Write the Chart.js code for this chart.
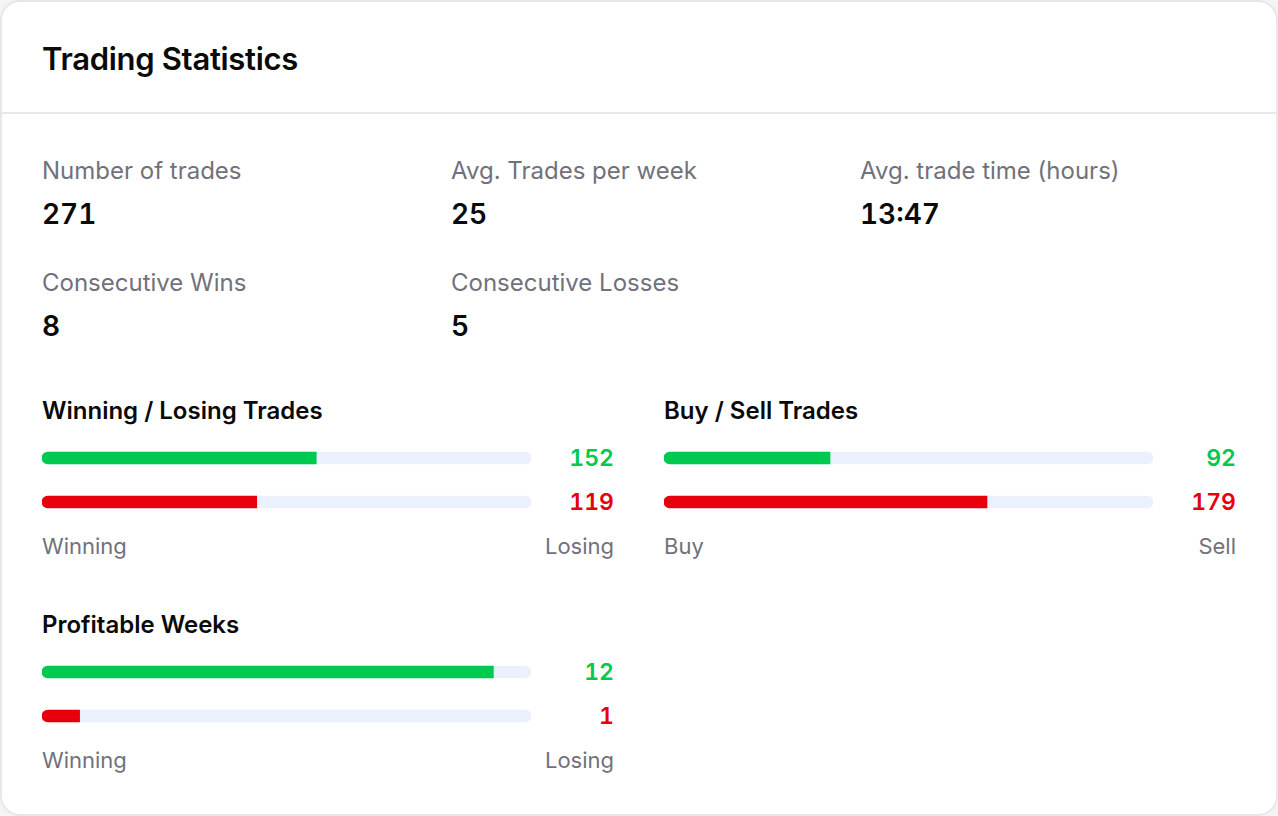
<!DOCTYPE html>
<html>
<head>
<meta charset="utf-8">
<script src="https://cdn.jsdelivr.net/npm/chart.js@4.4.1/dist/chart.umd.min.js"></script>
<style>
  html, body { margin: 0; padding: 0; background: #f4f4f5; }
  body { width: 1278px; height: 816px; overflow: hidden; font-family: "Inter", "Noto Sans", sans-serif; }
  .card {
    position: absolute; left: 0; top: 0; width: 1274px; height: 812px;
    background: #fff; border: 2px solid #e7e7e9; border-radius: 20px; overflow: hidden;
  }
  .divider { position: absolute; left: 0; right: 0; top: 110px; height: 2px; background: #e8e8ea; }
  .txt { position: absolute; line-height: 1; white-space: nowrap; }
  .title { font-size: 31px; font-weight: 600; color: #0a0a0a; letter-spacing: -0.3px; }
  .label { font-size: 24px; font-weight: 400; color: #71717b; }
  .small { font-size: 22px; font-weight: 400; color: #71717b; }
  .value { font-size: 28px; font-weight: 600; color: #0a0a0a; font-variant-numeric: tabular-nums; }
  .section { font-size: 24px; font-weight: 600; color: #0a0a0a; }
  .num { font-size: 23px; font-weight: 600; font-variant-numeric: tabular-nums; }
  canvas { position: absolute; }
</style>
</head>
<body>
<div class="card" id="card">
  <div class="divider"></div>
</div>
<script>
const statLabels = ["Number of trades", "Avg. Trades per week", "Avg. trade time (hours)", "Consecutive Wins", "Consecutive Losses"];
const statValues = ["271", "25", "13:47", "8", "5"];

const groupTitles = ["Winning / Losing Trades", "Buy / Sell Trades", "Profitable Weeks"];
const winLossTrades = [152, 119];
const buySellTrades = [92, 179];
const profitableWeeks = [12, 1];
const winLossLabels = ["Winning", "Losing"];
const buySellLabels = ["Buy", "Sell"];
const weekLabels = ["Winning", "Losing"];

const GREEN = "#00c950";
const RED = "#e7000b";
const TRACK = "#eaf1fd";

const card = document.getElementById("card");

// put text with its baseline at y (Inter: baseline ~0.864em below box top at line-height 1)
function place(text, x, baseline, cls, align, color) {
  const el = document.createElement("div");
  el.className = "txt " + cls;
  el.textContent = text;
  card.appendChild(el);
  const size = parseFloat(getComputedStyle(el).fontSize);
  el.style.top = (baseline - 0.864 * size - 2) + "px";
  if (align === "right") el.style.right = (1274 - x + 2) + "px";
  else el.style.left = (x - 2) + "px";
  if (color) el.style.color = color;
  return el;
}

place("Trading Statistics", 42, 70, "title");

const statX = [42, 451, 860, 42, 451];
const statY = [180, 180, 180, 292, 292];
statLabels.forEach((label, i) => {
  place(label, statX[i], statY[i], "label");
  place(statValues[i], statX[i], statY[i] + 44, "value");
});

function renderGroup(title, values, labels, x, y) {
  const total = values.reduce((a, b) => a + b, 0);
  place(title, x, y + 1.5, "section");

  const canvas = document.createElement("canvas");
  canvas.style.left = (x - 2) + "px";
  canvas.style.top = (y + 18 - 2) + "px";
  canvas.style.width = "489px";
  canvas.style.height = "88px";
  card.appendChild(canvas);

  new Chart(canvas, {
    type: "bar",
    data: {
      labels: labels,
      datasets: [
        {
          data: values,
          backgroundColor: [GREEN, RED],
          borderRadius: { topLeft: 6, bottomLeft: 6, topRight: 0, bottomRight: 0 },
          borderSkipped: false,
          barThickness: 12,
          grouped: false,
          order: 0,
        },
        {
          data: labels.map(() => total),
          backgroundColor: TRACK,
          borderRadius: 6,
          borderSkipped: false,
          barThickness: 12,
          grouped: false,
          order: 1,
        },
      ],
    },
    options: {
      indexAxis: "y",
      responsive: false,
      animation: false,
      layout: { padding: 0 },
      plugins: { legend: { display: false }, tooltip: { enabled: false } },
      scales: {
        x: { display: false, min: 0, max: total },
        y: { display: false },
      },
    },
  });

  const colors = [GREEN, RED];
  values.forEach((v, i) => {
    place(String(v), x + 572, y + 49 + i * 44, "num", "right", colors[i]);
  });
  place(labels[0], x, y + 136.5, "small");
  place(labels[1], x + 572, y + 136.5, "small", "right");
}

renderGroup(groupTitles[0], winLossTrades, winLossLabels, 42, 418);
renderGroup(groupTitles[1], buySellTrades, buySellLabels, 664, 418);
renderGroup(groupTitles[2], profitableWeeks, weekLabels, 42, 632);
</script>
</body>
</html>
